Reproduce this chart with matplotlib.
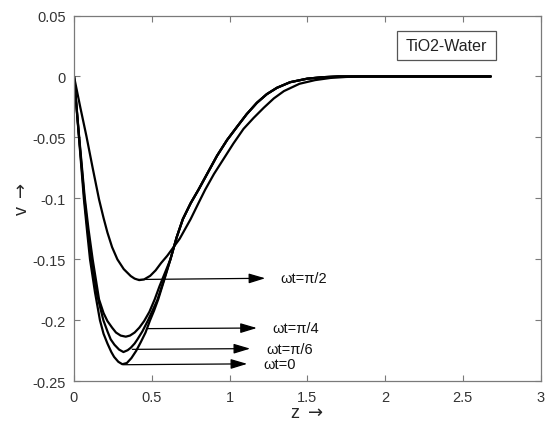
import matplotlib
matplotlib.use("Agg")
import matplotlib.pyplot as plt
from matplotlib.patches import Rectangle

plt.rcParams['font.family'] = ['Liberation Sans', 'DejaVu Sans']
plt.rcParams['mathtext.fontset'] = 'dejavusans'

# ---- data ----
z_wt0 = [0, 0.03, 0.064, 0.085, 0.103, 0.135, 0.167, 0.19, 0.215, 0.24, 0.258, 0.285, 0.311, 0.34,
         0.369, 0.40, 0.429, 0.46, 0.489, 0.515, 0.541, 0.58, 0.62, 0.66, 0.70, 0.75, 0.80, 0.86,
         0.92, 0.985, 1.05, 1.11, 1.176, 1.24, 1.305, 1.39, 1.50, 1.60, 1.70, 1.90, 2.20, 2.50, 2.68]
v_wt0 = [0, -0.047, -0.101, -0.128, -0.150, -0.177, -0.200, -0.211, -0.219, -0.226, -0.230, -0.234,
         -0.236, -0.235, -0.231, -0.225, -0.218, -0.210, -0.200, -0.192, -0.183, -0.167, -0.150,
         -0.132, -0.117, -0.104, -0.093, -0.079, -0.065, -0.052, -0.041, -0.031, -0.0216, -0.0145,
         -0.0093, -0.0047, -0.0018, -0.0006, 0, 0, 0, 0, 0]

z_wt6 = [0, 0.03, 0.066, 0.088, 0.11, 0.15, 0.189, 0.215, 0.236, 0.26, 0.29, 0.318, 0.345, 0.365,
         0.39, 0.408, 0.44, 0.476, 0.505, 0.537, 0.58, 0.62, 0.66, 0.70, 0.75, 0.80, 0.86,
         0.92, 0.985, 1.05, 1.11, 1.176, 1.24, 1.305, 1.39, 1.50, 1.60, 1.70, 1.90, 2.20, 2.50, 2.68]
v_wt6 = [0, -0.046, -0.099, -0.126, -0.150, -0.180, -0.200, -0.209, -0.2156, -0.220, -0.224, -0.226,
         -0.2245, -0.2225, -0.219, -0.2156, -0.209, -0.200, -0.192, -0.183, -0.166, -0.150,
         -0.132, -0.117, -0.104, -0.093, -0.079, -0.065, -0.052, -0.041, -0.031, -0.0216, -0.0145,
         -0.0093, -0.0047, -0.0018, -0.0006, 0, 0, 0, 0, 0]

z_wt4 = [0, 0.03, 0.068, 0.093, 0.12, 0.161, 0.19, 0.215, 0.245, 0.27, 0.30, 0.333, 0.36, 0.39,
         0.42, 0.451, 0.485, 0.519, 0.55, 0.585, 0.62, 0.66, 0.70, 0.75, 0.80, 0.86,
         0.92, 0.985, 1.05, 1.11, 1.176, 1.24, 1.305, 1.39, 1.50, 1.60, 1.70, 1.90, 2.20, 2.50, 2.68]
v_wt4 = [0, -0.045, -0.098, -0.125, -0.150, -0.1828, -0.194, -0.2006, -0.206, -0.210, -0.2125,
         -0.2134, -0.2125, -0.210, -0.206, -0.2006, -0.193, -0.1828, -0.172, -0.161, -0.150,
         -0.132, -0.117, -0.104, -0.093, -0.079, -0.065, -0.052, -0.041, -0.031, -0.0216, -0.0145,
         -0.0093, -0.0047, -0.0018, -0.0006, 0, 0, 0, 0, 0]

z_wt2 = [0, 0.04, 0.08, 0.12, 0.161, 0.19, 0.215, 0.245, 0.279, 0.32, 0.365, 0.39, 0.419, 0.45,
         0.49, 0.525, 0.56, 0.60, 0.64, 0.68, 0.715, 0.75, 0.80, 0.843, 0.90, 0.96, 1.025, 1.09,
         1.155, 1.22, 1.285, 1.35, 1.45, 1.55, 1.65, 1.75, 1.85, 2.00, 2.20, 2.50, 2.68]
v_wt2 = [0, -0.025, -0.049, -0.075, -0.1008, -0.116, -0.128, -0.140, -0.150, -0.158, -0.1637,
         -0.1658, -0.167, -0.1665, -0.1635, -0.159, -0.153, -0.147, -0.140, -0.133, -0.125, -0.117,
         -0.104, -0.093, -0.080, -0.068, -0.055, -0.043, -0.034, -0.0257, -0.018, -0.012, -0.006,
         -0.003, -0.0012, -0.0004, 0, 0, 0, 0, 0]

curves = [(z_wt0, v_wt0), (z_wt6, v_wt6), (z_wt4, v_wt4), (z_wt2, v_wt2)]

# annotations: label, arrow start (z, v), arrow tip (z, v), text position (z, v)
ann_labels = ['ωt=π/2', 'ωt=π/4', 'ωt=π/6', 'ωt=0']
ann_start_z = [0.414, 0.475, 0.375, 0.318]
ann_start_v = [-0.1665, -0.2068, -0.2238, -0.2364]
ann_tip_z = [1.23, 1.176, 1.133, 1.114]
ann_tip_v = [-0.1655, -0.2063, -0.2232, -0.2357]
ann_text_z = [1.33, 1.275, 1.235, 1.215]
ann_text_v = [-0.1655, -0.2063, -0.2232, -0.2362]

x_ticks = [0, 0.5, 1, 1.5, 2, 2.5, 3]
x_ticklabels = ['0', '0.5', '1', '1.5', '2', '2.5', '3']
y_ticks = [-0.25, -0.2, -0.15, -0.1, -0.05, 0, 0.05]
y_ticklabels = ['-0.25', '-0.2', '-0.15', '-0.1', '-0.05', '0', '0.05']

# ---- figure ----
fig = plt.figure(figsize=(5.5, 4.31), dpi=100)
ax = fig.add_axes([74/550, 1-382.3/431, (540.5-74)/550, (382.3-16.5)/431])

for z, v in curves:
    ax.plot(z, v, color='black', lw=1.6, solid_joinstyle='round', solid_capstyle='round')

for lab, sz, sv, tz, tv, xz, xv in zip(ann_labels, ann_start_z, ann_start_v, ann_tip_z, ann_tip_v,
                                        ann_text_z, ann_text_v):
    ax.annotate('', xy=(tz, tv), xytext=(sz, sv),
                arrowprops=dict(arrowstyle='-|>,head_length=1.0,head_width=0.3',
                                color='black', lw=0.9, shrinkA=0, shrinkB=0))
    ax.text(xz, xv, lab, fontsize=10.5, color='#111111', ha='left', va='center')

ax.set_xlim(0, 3)
ax.set_ylim(-0.25, 0.05)
ax.set_xticks(x_ticks)
ax.set_xticklabels(x_ticklabels)
ax.set_yticks(y_ticks)
ax.set_yticklabels(y_ticklabels)

spine_col = '#7a7a7a'
for s in ax.spines.values():
    s.set_color(spine_col)
    s.set_linewidth(0.9)
ax.tick_params(direction='in', length=4, width=0.8, color=spine_col,
               labelsize=10.5, labelcolor='#333333', top=True, right=True, pad=6)

ax.set_xlabel(r'z $\rightarrow$', fontsize=13, color='#262626', labelpad=0)
ax.set_ylabel(r'v $\rightarrow$', fontsize=13, color='#262626', labelpad=1)

# legend-like box
ax.add_patch(Rectangle((0.693, 0.878), 0.211, 0.079, transform=ax.transAxes,
                       facecolor='white', edgecolor='#555555', lw=0.9, zorder=5))
ax.text(0.7985, 0.9175, 'TiO2-Water', transform=ax.transAxes, fontsize=11.5,
        color='#222222', ha='center', va='center', zorder=6)

fig.savefig('out.png', dpi=100)
